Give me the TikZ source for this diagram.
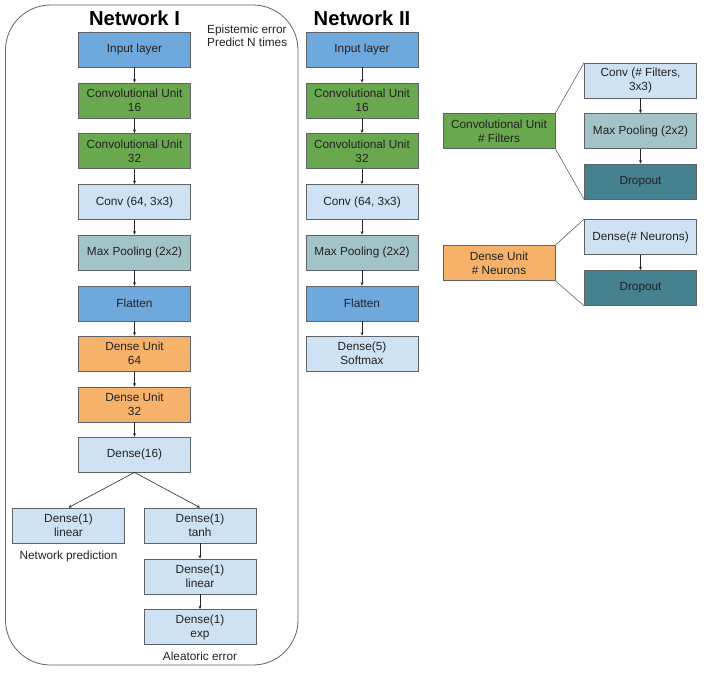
\documentclass[tikz,border=0pt]{standalone}
\usepackage{fontspec}
\setmainfont{Liberation Sans}
\usetikzlibrary{arrows.meta}
\definecolor{inblue}{HTML}{6FA8DC}
\definecolor{convgreen}{HTML}{6AA84F}
\definecolor{paleblue}{HTML}{CFE2F3}
\definecolor{poolcyan}{HTML}{A2C4C9}
\definecolor{denseorange}{HTML}{F6B26B}
\definecolor{dropteal}{HTML}{45818E}
\definecolor{edgegray}{HTML}{5F6368}
\definecolor{inkgray}{HTML}{222222}
\begin{document}
\begin{tikzpicture}[x=1pt,y=-1pt]
    \tikzstyle{every node}+=[inner sep=0pt, text=inkgray]
    \tikzstyle{layer}=[draw=edgegray, line width=0.8pt, minimum width=112pt, minimum height=35pt, align=center, font=\fontsize{11.8}{14}\selectfont]
    \tikzstyle{flow}=[-{Stealth[length=3.5pt,width=3pt]}, line width=0.6pt, draw=black!85]
    \tikzstyle{fan}=[line width=0.6pt, draw=edgegray]
    \tikzstyle{note}=[font=\fontsize{11.8}{14}\selectfont]
    \useasboundingbox (0,0) rectangle (706,672);
    \draw [edgegray, line width=0.8pt, rounded corners=45pt] (5.5,5) rectangle (298,665);
    \node [font=\fontsize{20.2}{24}\bfseries, text=black] (titleA) at (134.5,18) {Network I};
    \node [font=\fontsize{20.2}{24}\bfseries, text=black] (titleB) at (362,18) {Network II};
    \node [note, anchor=base west] (epi) at (207,33.3) {Epistemic error};
    \node [note, anchor=base west] (pnt) at (207,46.7) {Predict N times};
    \node [layer, fill=inblue] (a0) at (134.5,49.5) {Input layer};
    \node [layer, fill=convgreen] (a1) at (134.5,100.5) {Convolutional Unit\\16};
    \node [layer, fill=convgreen] (a2) at (134.5,151) {Convolutional Unit\\32};
    \node [layer, fill=paleblue] (a3) at (134.5,202) {Conv (64, 3x3)};
    \node [layer, fill=poolcyan] (a4) at (134.5,252.5) {Max Pooling (2x2)};
    \node [layer, fill=inblue] (a5) at (134.5,303.5) {Flatten};
    \node [layer, fill=denseorange] (a6) at (134.5,353.5) {Dense Unit\\64};
    \node [layer, fill=denseorange] (a7) at (134.5,404.5) {Dense Unit\\32};
    \node [layer, fill=paleblue] (a8) at (134.5,454.5) {Dense(16)};
    \node [layer, fill=paleblue] (pred) at (68.5,525.5) {Dense(1)\\linear};
    \node [layer, fill=paleblue] (e1) at (200,525.5) {Dense(1)\\tanh};
    \node [layer, fill=paleblue] (e2) at (200,576.5) {Dense(1)\\linear};
    \node [layer, fill=paleblue] (e3) at (200,627) {Dense(1)\\exp};
    \node [note, anchor=base] (predlbl) at (68.5,559) {Network prediction};
    \node [note, anchor=base] (alealbl) at (200,660) {Aleatoric error};
    \node [layer, fill=inblue] (b0) at (362,49.5) {Input layer};
    \node [layer, fill=convgreen] (b1) at (362,100.5) {Convolutional Unit\\16};
    \node [layer, fill=convgreen] (b2) at (362,151) {Convolutional Unit\\32};
    \node [layer, fill=paleblue] (b3) at (362,202) {Conv (64, 3x3)};
    \node [layer, fill=poolcyan] (b4) at (362,252.5) {Max Pooling (2x2)};
    \node [layer, fill=inblue] (b5) at (362,303.5) {Flatten};
    \node [layer, fill=paleblue] (b6) at (362,353.5) {Dense(5)\\Softmax};
    \node [layer, fill=convgreen] (cu) at (499,131) {Convolutional Unit\\\# Filters};
    \node [layer, fill=paleblue] (cu1) at (640.5,80.5) {Conv (\# Filters,\\3x3)};
    \node [layer, fill=poolcyan] (cu2) at (640.5,131) {Max Pooling (2x2)};
    \node [layer, fill=dropteal] (cu3) at (640.5,181.5) {Dropout};
    \node [layer, fill=denseorange] (du) at (499,263) {Dense Unit\\\# Neurons};
    \node [layer, fill=paleblue] (du1) at (640.5,237) {Dense(\# Neurons)};
    \node [layer, fill=dropteal] (du2) at (640.5,288) {Dropout};
    \draw [flow] (a0) -- (a1);
    \draw [flow] (a1) -- (a2);
    \draw [flow] (a2) -- (a3);
    \draw [flow] (a3) -- (a4);
    \draw [flow] (a4) -- (a5);
    \draw [flow] (a5) -- (a6);
    \draw [flow] (a6) -- (a7);
    \draw [flow] (a7) -- (a8);
    \draw [flow] (a8.south) -- (pred.north);
    \draw [flow] (a8.south) -- (e1.north);
    \draw [flow] (e1) -- (e2);
    \draw [flow] (e2) -- (e3);
    \draw [flow] (b0) -- (b1);
    \draw [flow] (b1) -- (b2);
    \draw [flow] (b2) -- (b3);
    \draw [flow] (b3) -- (b4);
    \draw [flow] (b4) -- (b5);
    \draw [flow] (b5) -- (b6);
    \draw [flow] (cu1) -- (cu2);
    \draw [flow] (cu2) -- (cu3);
    \draw [flow] (du1) -- (du2);
    \draw [fan] (cu.north east) -- (cu1.north west);
    \draw [fan] (cu.south east) -- (cu3.south west);
    \draw [fan] (du.north east) -- (du1.north west);
    \draw [fan] (du.south east) -- (du2.south west);
\end{tikzpicture}
\end{document}
